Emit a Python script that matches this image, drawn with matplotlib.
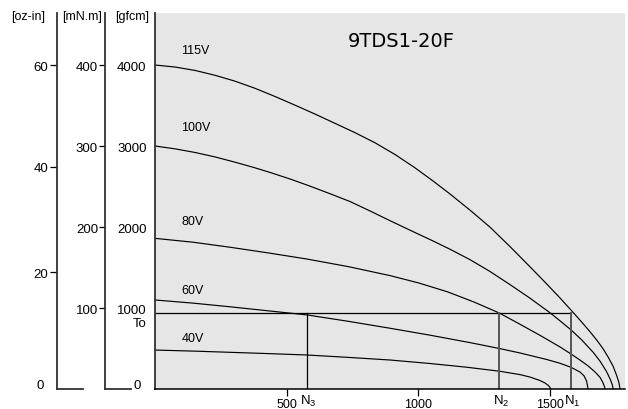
import matplotlib.pyplot as plt

plt.rcParams['font.family'] = ['Liberation Sans', 'DejaVu Sans']
plt.rcParams['mathtext.fontset'] = 'custom'
plt.rcParams['mathtext.rm'] = 'Liberation Sans'
plt.rcParams['mathtext.it'] = 'Liberation Sans'
plt.rcParams['font.size'] = 9

# speed [rpm] / torque [gfcm]
rpm_115 = [0, 76, 152, 228, 304, 380, 455, 531, 607, 683, 759, 835, 911, 985, 1055, 1120, 1195,
           1271, 1347, 1423, 1480, 1537, 1590, 1620, 1650, 1680, 1700, 1720, 1739, 1752, 1761, 1765]
tq_115 = [4000, 3975, 3933, 3873, 3800, 3712, 3612, 3505, 3395, 3280, 3165, 3040, 2895, 2735, 2569,
          2407, 2210, 2000, 1760, 1510, 1320, 1125, 935, 825, 712, 590, 500, 395, 280, 170, 80, 0]

rpm_100 = [0, 76, 152, 228, 304, 375, 443, 515, 588, 665, 740, 815, 892, 975, 1055, 1120, 1195,
           1271, 1347, 1423, 1499, 1540, 1579, 1620, 1664, 1690, 1714, 1728, 1736, 1739]
tq_100 = [3000, 2965, 2920, 2865, 2800, 2735, 2667, 2590, 2505, 2410, 2315, 2200, 2078, 1950, 1828,
          1725, 1598, 1452, 1290, 1122, 942, 835, 730, 605, 450, 340, 215, 120, 50, 0]

rpm_80 = [0, 145, 285, 430, 576, 735, 892, 1000, 1110, 1210, 1307, 1385, 1460, 1537, 1579, 1612,
          1644, 1672, 1690, 1700, 1706, 1708]
tq_80 = [1860, 1812, 1750, 1680, 1605, 1510, 1400, 1310, 1200, 1075, 938, 800, 665, 520, 432, 360,
         285, 205, 140, 80, 30, 0]

rpm_60 = [0, 145, 285, 430, 576, 735, 892, 1043, 1200, 1307, 1385, 1486, 1537, 1579, 1613, 1628,
          1638, 1644]
tq_60 = [1099, 1060, 1015, 965, 915, 835, 750, 665, 570, 500, 445, 365, 318, 268, 210, 165, 100, 0]

rpm_40 = [0, 145, 285, 430, 576, 735, 892, 1043, 1180, 1307, 1385, 1423, 1461, 1480, 1495, 1503]
tq_40 = [481, 468, 453, 437, 420, 390, 358, 315, 270, 220, 178, 148, 105, 75, 38, 0]

curves = [(rpm_115, tq_115), (rpm_100, tq_100), (rpm_80, tq_80), (rpm_60, tq_60), (rpm_40, tq_40)]
volt_labels = ['115V', '100V', '80V', '60V', '40V']
volt_label_y = [4190, 3235, 2074, 1222, 630]

To = 935
N_speeds = [1578, 1307, 576]
N_names = ['N$_1$', 'N$_2$', 'N$_3$']

x_ticks = [500, 1000, 1500]
gfcm_ticks = [1000, 2000, 3000, 4000]
mnm_ticks = [100, 200, 300, 400]
oz_ticks = [20, 40, 60]
oz_tick_gfcm = [1444, 2741, 4000]

W, H = 628, 410


def box(x0, y0, x1, y1):
    return [x0 / W, 1 - y1 / H, (x1 - x0) / W, (y1 - y0) / H]


def scale_axes(rect, ymax, ticks, labels, tick_pos=None):
    a = fig.add_axes(rect)
    a.set_ylim(0, ymax)
    a.set_xlim(0, 1)
    a.patch.set_visible(False)
    for s in ['top', 'right']:
        a.spines[s].set_visible(False)
    for s in ['left', 'bottom']:
        a.spines[s].set_color('#333333')
        a.spines[s].set_linewidth(1.3)
    a.set_xticks([])
    a.set_yticks(tick_pos if tick_pos is not None else ticks)
    a.set_yticklabels(labels)
    return a


fig = plt.figure(figsize=(W / 100, H / 100), dpi=100)

ax = fig.add_axes(box(155, 14, 625, 390))
ax.set_facecolor('#e6e6e6')
ax.set_xlim(0, 1784)
ax.set_ylim(0, 4642)
for s in ['top', 'right']:
    ax.spines[s].set_visible(False)
ax.spines['left'].set_color('#333333')
ax.spines['left'].set_linewidth(1.3)
ax.spines['bottom'].set_color('black')
ax.spines['bottom'].set_linewidth(1.1)

for (r, t) in curves:
    ax.plot(r, t, color='black', lw=0.85, solid_joinstyle='round')

for lab, ly in zip(volt_labels, volt_label_y):
    ax.text(100, ly, lab, ha='left', va='center', fontsize=9)

# rated torque box
ax.plot([0, N_speeds[0]], [To, To], color='black', lw=0.9)
for n, c, w in zip(N_speeds, ['#555555', '#555555', 'black'], [1.4, 1.4, 0.9]):
    ax.plot([n, n], [0, To], color=c, lw=w)
for n, name in zip(N_speeds, N_names):
    ax.annotate(name, (n, 0), xytext=(1, -3), textcoords='offset points',
                ha='center', va='top', fontsize=9.5, annotation_clip=False)

ax.set_xticks(x_ticks)
ax.set_xticklabels([str(v) for v in x_ticks])
ax.tick_params(axis='x', direction='out', length=5, width=0.9, pad=1.5, labelsize=9)
ax.set_yticks(gfcm_ticks)
ax.set_yticklabels([str(v) for v in gfcm_ticks])
ax.tick_params(axis='y', length=0, pad=6, labelsize=9.5)

ax.annotate('To', (0, To), xytext=(-6, -3), textcoords='offset points',
            ha='right', va='top', fontsize=9.5, annotation_clip=False)
ax.annotate('0', (0, 0), xytext=(-13, 3), textcoords='offset points',
            ha='center', va='center', fontsize=9.5, annotation_clip=False)

ax.text(0.523, 0.928, '9TDS1-20F', transform=ax.transAxes, ha='center', va='center',
        fontsize=14, family='DejaVu Sans')

# mN.m scale
ax_mn = scale_axes(box(105, 14, 131, 390), 464.2, mnm_ticks, [str(v) for v in mnm_ticks])
ax_mn.tick_params(axis='y', direction='out', length=4.5, width=0.9, pad=0.5, labelsize=9.5)

# oz-in scale
ax_oz = scale_axes(box(57, 14, 83, 390), 4642, oz_ticks, [str(v) for v in oz_ticks], oz_tick_gfcm)
ax_oz.tick_params(axis='y', direction='out', length=5, width=0.9, pad=1.5, labelsize=9.5)
ax_oz.annotate('0', (0, 0), xytext=(-12, 3), textcoords='offset points',
               ha='center', va='center', fontsize=9.5, annotation_clip=False)

# unit headers
for label, xc in zip(['[oz-in]', '[mN.m]', '[gfcm]'], [28, 82, 132]):
    fig.text(xc / W, 1 - 17 / H, label, ha='center', va='center', fontsize=9)

fig.savefig('out.png', dpi=100)
